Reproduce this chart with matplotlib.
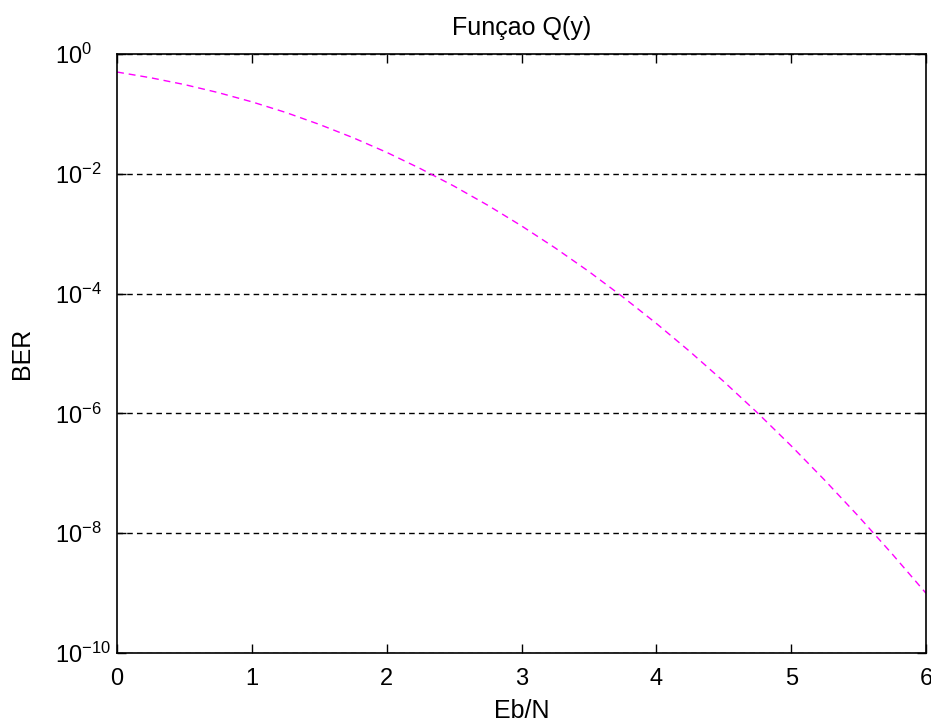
import matplotlib

matplotlib.use("Agg")

import matplotlib.pyplot as plt

# values
eb_n = [0.0, 0.25, 0.5, 0.75, 1.0, 1.25, 1.5, 1.75, 2.0, 2.25, 2.5, 2.75, 3.0,
        3.25, 3.5, 3.75, 4.0, 4.25, 4.5, 4.75, 5.0, 5.25, 5.5, 5.75, 6.0]
ber = [0.5, 0.401, 0.309, 0.227, 0.159, 0.106, 0.0668, 0.0401, 0.0228, 0.0122,
       6.21e-3, 2.98e-3, 1.35e-3, 5.77e-4, 2.33e-4, 8.84e-5, 3.17e-5, 1.07e-5,
       3.4e-6, 1.02e-6, 2.87e-7, 7.6e-8, 1.9e-8, 4.46e-9, 9.9e-10]
x_ticks = [0, 1, 2, 3, 4, 5, 6]
y_ticks = [1e-10, 1e-8, 1e-6, 1e-4, 1e-2, 1e0]
y_tick_labels = ["$10^{-10}$", "$10^{-8}$", "$10^{-6}$", "$10^{-4}$",
                 "$10^{-2}$", "$10^{0}$"]

plt.rcParams["font.family"] = ["Liberation Sans", "DejaVu Sans"]
plt.rcParams["mathtext.default"] = "regular"

fig = plt.figure(figsize=(9.31, 7.22), dpi=100)
ax = fig.add_axes([0.1257, 0.0956, 0.869, 0.8296])

ax.semilogy(eb_n, ber, linestyle="--", color="#ff00ff", linewidth=1.0,
            dashes=(5, 3.5))
ax.set_xlim(0, 6)
ax.set_ylim(1e-10, 1e0)
ax.set_xticks(x_ticks)
ax.set_xticklabels([str(t) for t in x_ticks])
ax.set_yticks(y_ticks)
ax.set_yticklabels(y_tick_labels)
ax.yaxis.set_minor_locator(matplotlib.ticker.NullLocator())
ax.tick_params(direction="in", top=True, right=True, length=6.5, width=1,
               labelsize=17)
ax.tick_params(axis="x", pad=10.5)
ax.tick_params(axis="y", pad=45)
for label in ax.get_yticklabels():
    label.set_horizontalalignment("left")
ax.grid(axis="y", which="major", color="black", linestyle="--",
        linewidth=1.0, dashes=(4, 3))

for spine in ax.spines.values():
    spine.set_linewidth(1.2)

ax.set_title("Funçao Q(y)", fontsize=18, pad=14)
ax.set_xlabel("Eb/N", fontsize=18, labelpad=7)
ax.set_ylabel("BER", fontsize=18, labelpad=15)

fig.savefig("out.png")
plt.close(fig)
